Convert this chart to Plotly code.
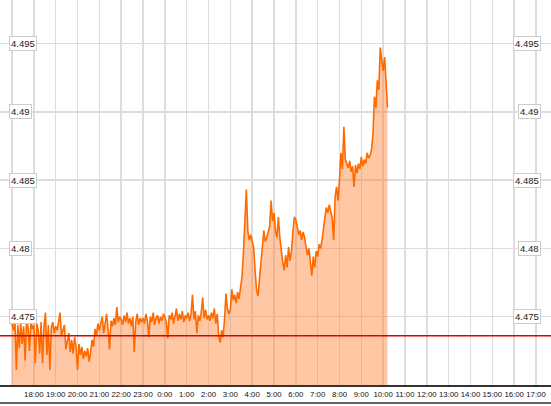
import pandas as pd
import plotly.graph_objects as go

h17 = [4.4745, 4.4740, 4.4747, 4.4711, 4.4744, 4.4727, 4.4746, 4.4730, 4.4743, 4.4718, 4.4748, 4.4742, 4.4725, 4.4746, 4.4741]
h18 = [4.4744, 4.4716, 4.4745, 4.4740, 4.4723, 4.4746, 4.4716, 4.4743, 4.4753, 4.4722, 4.4744, 4.4711, 4.4742, 4.4746, 4.4738]
h19 = [4.4743, 4.4740, 4.4746, 4.4753, 4.4736, 4.4741, 4.4744, 4.4726, 4.4732, 4.4738, 4.4724, 4.4733, 4.4723, 4.4735, 4.4728]
h20 = [4.4711, 4.4730, 4.4722, 4.4728, 4.4719, 4.4725, 4.4721, 4.4727, 4.4717, 4.4724, 4.4733, 4.4728, 4.4741, 4.4736, 4.4745]
h21 = [4.4740, 4.4746, 4.4750, 4.4738, 4.4745, 4.4752, 4.4741, 4.4726, 4.4747, 4.4743, 4.4749, 4.4744, 4.4757, 4.4746, 4.4750]
h22 = [4.4748, 4.4744, 4.4751, 4.4746, 4.4753, 4.4745, 4.4749, 4.4743, 4.4750, 4.4724, 4.4746, 4.4752, 4.4744, 4.4749, 4.4746]
h23 = [4.4749, 4.4745, 4.4752, 4.4747, 4.4735, 4.4750, 4.4746, 4.4753, 4.4744, 4.4749, 4.4751, 4.4745, 4.4750, 4.4747, 4.4752]
h00 = [4.4750, 4.4746, 4.4734, 4.4751, 4.4748, 4.4753, 4.4745, 4.4750, 4.4756, 4.4747, 4.4752, 4.4748, 4.4754, 4.4746, 4.4751]
h01 = [4.4749, 4.4753, 4.4747, 4.4752, 4.4766, 4.4748, 4.4754, 4.4738, 4.4751, 4.4747, 4.4753, 4.4764, 4.4749, 4.4755, 4.4748]
h02 = [4.4751, 4.4747, 4.4753, 4.4749, 4.4756, 4.4745, 4.4752, 4.4736, 4.4731, 4.4740, 4.4735, 4.4748, 4.4767, 4.4756, 4.4752]
h03 = [4.4755, 4.4770, 4.4762, 4.4766, 4.4760, 4.4768, 4.4763, 4.4771, 4.4779, 4.4797, 4.4818, 4.4843, 4.4813, 4.4806, 4.4810]
h04 = [4.4806, 4.4801, 4.4784, 4.4770, 4.4765, 4.4779, 4.4790, 4.4801, 4.4813, 4.4805, 4.4808, 4.4812, 4.4816, 4.4835, 4.4820]
h05 = [4.4826, 4.4813, 4.4808, 4.4823, 4.4808, 4.4797, 4.4790, 4.4784, 4.4795, 4.4786, 4.4801, 4.4791, 4.4798, 4.4812, 4.4823]
h06 = [4.4821, 4.4816, 4.4810, 4.4813, 4.4806, 4.4812, 4.4808, 4.4801, 4.4795, 4.4800, 4.4789, 4.4780, 4.4794, 4.4786, 4.4798]
h07 = [4.4794, 4.4803, 4.4800, 4.4806, 4.4816, 4.4823, 4.4830, 4.4826, 4.4832, 4.4828, 4.4822, 4.4806, 4.4838, 4.4845, 4.4835]
h08 = [4.4850, 4.4870, 4.4858, 4.4889, 4.4865, 4.4862, 4.4859, 4.4864, 4.4856, 4.4860, 4.4845, 4.4861, 4.4855, 4.4862, 4.4858]
h09 = [4.4867, 4.4860, 4.4865, 4.4862, 4.4870, 4.4866, 4.4868, 4.4872, 4.4884, 4.4911, 4.4903, 4.4923, 4.4916, 4.4947, 4.4938]
h10 = [4.4930, 4.4940, 4.4918, 4.4903]

prices = h17 + h18 + h19 + h20 + h21 + h22 + h23 + h00 + h01 + h02 + h03 + h04 + h05 + h06 + h07 + h08 + h09 + h10
start_time = "2024-01-01 17:00"
times = pd.date_range(start_time, periods=len(prices), freq="4min")

prev_close = 4.4736

tick_times = pd.date_range("2024-01-01 17:00", "2024-01-02 17:00", freq="1h")
tick_labels = [""] + [f"{t.hour}:00" for t in tick_times[1:]]

y_ticks = [4.475, 4.48, 4.485, 4.49, 4.495]
y_labels = ["4.475", "4.48", "4.485", "4.49", "4.495"]

FONT = "Liberation Sans, Arial, sans-serif"

fig = go.Figure()
fig.add_trace(go.Scatter(
    x=times, y=prices, mode="lines",
    line=dict(color="#ff6a00", width=1.6),
    fill="tozeroy", fillcolor="rgba(255,130,50,0.45)",
    hoverinfo="skip",
))

fig.add_shape(type="line", xref="paper", yref="y", x0=0, x1=1, y0=prev_close, y1=prev_close,
              line=dict(color="#e00000", width=1.5))
fig.add_shape(type="line", xref="paper", yref="paper", x0=0, x1=1, y0=-18/385, y1=-18/385,
              line=dict(color="#333333", width=1.5))

for v, lab in zip(y_ticks, y_labels):
    for xp, anc in ((9 / 551, "left"), (541 / 551, "right")):
        fig.add_annotation(x=xp, xref="paper", y=v, yref="y", text=lab, showarrow=False,
                           xanchor=anc, yanchor="middle",
                           font=dict(family=FONT, size=9.5, color="#222"),
                           bgcolor="white", bordercolor="#cccccc", borderwidth=1, borderpad=1)

x0 = pd.Timestamp("2024-01-01 17:00") - pd.Timedelta(hours=12 / 21.83)
x1 = pd.Timestamp("2024-01-02 17:00") + pd.Timedelta(hours=15 / 21.83)

fig.update_layout(
    width=551, height=406,
    margin=dict(l=0, r=0, t=0, b=21),
    paper_bgcolor="white", plot_bgcolor="white",
    showlegend=False,
    xaxis=dict(
        range=[x0, x1], tickvals=list(tick_times), ticktext=tick_labels,
        tickangle=0,
        showgrid=True, gridcolor="#dddddd", gridwidth=1.5,
        showline=True, linecolor="#333333", linewidth=1.5,
        ticks="", ticklabelstandoff=1,
        tickfont=dict(family=FONT, size=7.8, color="#111"),
        zeroline=False,
    ),
    yaxis=dict(
        range=[4.470, 4.49818], tickvals=y_ticks, showticklabels=False,
        showgrid=True, gridcolor="#dddddd", gridwidth=1.5, zeroline=False,
        ticks="",
    ),
)

fig.write_html("out.html", config={"displayModeBar": False, "staticPlot": True},
               post_script="document.body.style.margin='0';document.body.style.overflow='hidden';")
